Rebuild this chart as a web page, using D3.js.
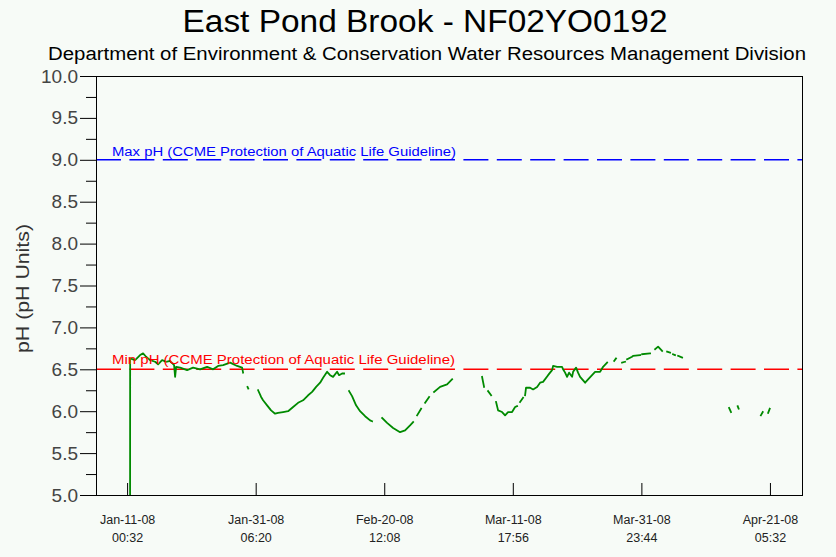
<!DOCTYPE html>
<html>
<head>
<meta charset="utf-8">
<script src="https://cdn.jsdelivr.net/npm/d3@7"></script>
<style>
  body { margin: 0; background: #f7fbf7; }
  svg text { font-family: "Liberation Sans", Arial, sans-serif; }
</style>
</head>
<body>
<svg id="chart" width="836" height="557"></svg>
<script>
// ---- text ----
const titleText = "East Pond Brook - NF02YO0192";
const subtitleText = "Department of Environment & Conservation Water Resources Management Division";
const yAxisTitle = "pH (pH Units)";

// ---- axes ----
const xTickDates = ["2008-01-11 00:32", "2008-01-31 06:20", "2008-02-20 12:08",
                    "2008-03-11 17:56", "2008-03-31 23:44", "2008-04-21 05:32"];
const xDomain = ["2008-01-06 03:00", "2008-04-26 10:26"];
const yMajorTicks = [5.0, 5.5, 6.0, 6.5, 7.0, 7.5, 8.0, 8.5, 9.0, 9.5, 10.0];
const yMinorTicks = [5.25, 5.75, 6.25, 6.75, 7.25, 7.75, 8.25, 8.75, 9.25, 9.75];
const yDomain = [5.0, 10.0];

// ---- CCME guidelines ----
const maxGuideline = 9.0;
const minGuideline = 6.5;
const maxLabel = "Max pH (CCME Protection of Aquatic Life Guideline)";
const minLabel = "Min pH (CCME Protection of Aquatic Life Guideline)";

// ---- hourly pH readings: [day of 2008 (days since Jan 1 00:00), pH]; null = logging gap ----
const janReadings = [
  [10.49, 5.00], [10.50, 6.63], [11.28, 6.61], [12.07, 6.67], [12.54, 6.69], [13.01, 6.65],
  [13.64, 6.61], [14.43, 6.59], [14.90, 6.56], [15.53, 6.61], [16.16, 6.59], [16.79, 6.60],
  [17.42, 6.55], [17.58, 6.41], [17.74, 6.53], [18.37, 6.52], [19.47, 6.49], [20.41, 6.52],
  [21.51, 6.50], [22.62, 6.53], [23.56, 6.50], [24.35, 6.54], [25.14, 6.55], [26.24, 6.58],
  [27.34, 6.54], [28.13, 6.52], [28.28, 6.46], null,
  [28.98, 6.29], [29.10, 6.27], null,
  [30.65, 6.25], [31.12, 6.17], [31.43, 6.13], [32.06, 6.07], [32.69, 6.01], [33.32, 5.97],
  [33.79, 5.98], [34.58, 5.99], [35.37, 6.00], [36.16, 6.05], [36.94, 6.10], [37.73, 6.13],
  [38.52, 6.19], [39.15, 6.23], [39.78, 6.29], [40.41, 6.34], [40.88, 6.40], [41.51, 6.47],
  [41.98, 6.43], [42.45, 6.41], [43.08, 6.47], [43.40, 6.43], [43.87, 6.45], [44.18, 6.45], null
];
const febReadings = [
  [44.97, 6.24], [45.44, 6.18], [46.07, 6.07], [46.70, 6.00], [47.49, 5.94], [48.28, 5.89],
  [48.59, 5.88], null,
  [50.17, 5.92], [50.95, 5.86], [51.90, 5.80], [53.00, 5.75], [53.79, 5.77], [54.57, 5.83],
  [55.05, 5.87], null,
  [55.68, 5.95], [56.31, 6.03], null,
  [56.94, 6.10], [57.57, 6.17], null,
  [58.35, 6.23], [59.30, 6.29], [60.40, 6.32], [61.19, 6.38], null
];
const marReadings = [
  [65.91, 6.41], [66.22, 6.29], null,
  [66.85, 6.24], [67.33, 6.19], null,
  [68.11, 6.11], [68.43, 6.01], [69.06, 5.99], [69.53, 5.95], [70.00, 5.99], [70.63, 5.99],
  [71.11, 6.05], [71.42, 6.06], null,
  [71.89, 6.11], [72.36, 6.16], null,
  [72.68, 6.19], [72.83, 6.28], [73.47, 6.28], [73.94, 6.26], [74.57, 6.29], [75.04, 6.34],
  [75.51, 6.35], [76.30, 6.43], [76.93, 6.49], [77.09, 6.54], [77.72, 6.53], [78.50, 6.53],
  [78.66, 6.50], [78.98, 6.46], [79.29, 6.41], [79.61, 6.46], [80.08, 6.41], [80.24, 6.47],
  [80.71, 6.52], [81.02, 6.46], [81.34, 6.41], [82.13, 6.34], [82.60, 6.38], [83.70, 6.47],
  [84.49, 6.47], [84.96, 6.53], [85.59, 6.58], null,
  [86.70, 6.60], [87.00, 6.63], null,
  [87.95, 6.58], [88.42, 6.59], null,
  [88.74, 6.62], [89.52, 6.65], [89.68, 6.66], [90.79, 6.67], null,
  [91.10, 6.68], [92.36, 6.69], null,
  [93.15, 6.74], [93.62, 6.77], [94.25, 6.72], null,
  [95.04, 6.71], [95.51, 6.70], null,
  [95.98, 6.68], [96.29, 6.67], null,
  [96.77, 6.66], [97.40, 6.64], null
];
const aprReadings = [
  [104.80, 6.04], [105.10, 5.99], null,
  [106.15, 6.06], [106.30, 6.03], null,
  [109.80, 5.95], [110.10, 5.99], null,
  [110.95, 5.98], [111.20, 6.03]
];

// ---- layout ----
const W = 836, H = 557;
const plot = { left: 96, right: 803, top: 76, bottom: 495 };

const parseTime = d3.timeParse("%Y-%m-%d %H:%M");
const yearStart = new Date(2008, 0, 1);
const fromDay = day => new Date(yearStart.getTime() + day * 864e5);

const x = d3.scaleTime().domain(xDomain.map(parseTime)).range([plot.left, plot.right]);
const y = d3.scaleLinear().domain(yDomain).range([plot.bottom, plot.top]);

const svg = d3.select("#chart");
svg.append("rect").attr("width", W).attr("height", H).attr("fill", "#f7fbf7");

svg.append("defs").append("clipPath").attr("id", "plotClip")
  .append("rect")
  .attr("x", plot.left).attr("y", plot.top)
  .attr("width", plot.right - plot.left).attr("height", plot.bottom - plot.top);

// titles
svg.append("text")
  .attr("x", 425).attr("y", 32)
  .attr("text-anchor", "middle")
  .attr("font-size", 31)
  .attr("textLength", 485).attr("lengthAdjust", "spacingAndGlyphs")
  .attr("fill", "#000")
  .text(titleText);

svg.append("text")
  .attr("x", 427).attr("y", 60)
  .attr("text-anchor", "middle")
  .attr("font-size", 18)
  .attr("textLength", 758).attr("lengthAdjust", "spacingAndGlyphs")
  .attr("fill", "#000")
  .text(subtitleText);

// y axis title
svg.append("text")
  .attr("transform", `translate(29,${(plot.top + plot.bottom) / 2 + 3}) rotate(-90)`)
  .attr("text-anchor", "middle")
  .attr("font-size", 19)
  .attr("textLength", 129).attr("lengthAdjust", "spacingAndGlyphs")
  .attr("fill", "#333")
  .text(yAxisTitle);

// guideline lines
const guideG = svg.append("g").attr("clip-path", "url(#plotClip)");
[[maxGuideline, "#0000ff"], [minGuideline, "#ff0000"]].forEach(([v, c]) => {
  guideG.append("line")
    .attr("x1", plot.left).attr("x2", plot.right)
    .attr("y1", y(v)).attr("y2", y(v))
    .attr("stroke", c).attr("stroke-width", 1.6)
    .attr("stroke-dasharray", "25,8.4");
});

// pH series
const line = d3.line()
  .defined(d => d !== null)
  .x(d => x(fromDay(d[0])))
  .y(d => y(d[1]));

const seriesG = svg.append("g").attr("clip-path", "url(#plotClip)");
[janReadings, febReadings, marReadings, aprReadings].forEach(r => {
  seriesG.append("path")
    .datum(r)
    .attr("d", line)
    .attr("fill", "none")
    .attr("stroke", "#008a00")
    .attr("stroke-width", 1.8)
    .attr("stroke-linejoin", "round")
    .attr("stroke-linecap", "square");
});

// guideline labels
svg.append("text")
  .attr("x", 112).attr("y", 156)
  .attr("font-size", 12.5)
  .attr("textLength", 344).attr("lengthAdjust", "spacingAndGlyphs")
  .attr("fill", "#0000ff")
  .text(maxLabel);

svg.append("text")
  .attr("x", 112).attr("y", 364)
  .attr("font-size", 12.5)
  .attr("textLength", 343).attr("lengthAdjust", "spacingAndGlyphs")
  .attr("fill", "#ff0000")
  .text(minLabel);

// y axis: minor ticks, then labelled major ticks
svg.append("g")
  .attr("transform", `translate(${plot.left},0)`)
  .call(d3.axisLeft(y).tickValues(yMinorTicks).tickSize(10).tickFormat(""))
  .call(g => g.select(".domain").remove())
  .call(g => g.selectAll("line").attr("stroke", "#000"));

svg.append("g")
  .attr("transform", `translate(${plot.left},0)`)
  .call(d3.axisLeft(y).tickValues(yMajorTicks).tickSize(16).tickPadding(2).tickFormat(d3.format(".1f")))
  .call(g => g.select(".domain").remove())
  .call(g => g.selectAll("line").attr("stroke", "#000"))
  .call(g => g.selectAll("text")
    .attr("font-size", 19).attr("fill", "#444")
    .attr("font-family", "'Liberation Sans', Arial, sans-serif"));

// x axis: inward ticks with two-line date/time labels
const fmtDate = d3.timeFormat("%b-%d-%y");
const fmtTime = d3.timeFormat("%H:%M");
svg.append("g")
  .attr("transform", `translate(0,${plot.bottom})`)
  .call(d3.axisBottom(x).tickValues(xTickDates.map(parseTime)).tickSize(-12).tickFormat(""))
  .call(g => g.select(".domain").remove())
  .call(g => g.selectAll("line").attr("stroke", "#000"))
  .call(g => g.selectAll(".tick").each(function (d) {
    const t = d3.select(this).append("text")
      .attr("text-anchor", "middle")
      .attr("fill", "#222")
      .attr("font-size", 12.5)
      .attr("font-family", "'Liberation Sans', Arial, sans-serif");
    t.append("tspan").attr("x", 0).attr("y", 29).text(fmtDate(d));
    t.append("tspan").attr("x", 0).attr("y", 47).text(fmtTime(d));
  }));

// plot frame
svg.append("rect")
  .attr("x", plot.left + 0.5).attr("y", plot.top + 0.5)
  .attr("width", plot.right - plot.left - 1).attr("height", plot.bottom - plot.top)
  .attr("fill", "none").attr("stroke", "#000").attr("stroke-width", 1);
</script>
</body>
</html>
